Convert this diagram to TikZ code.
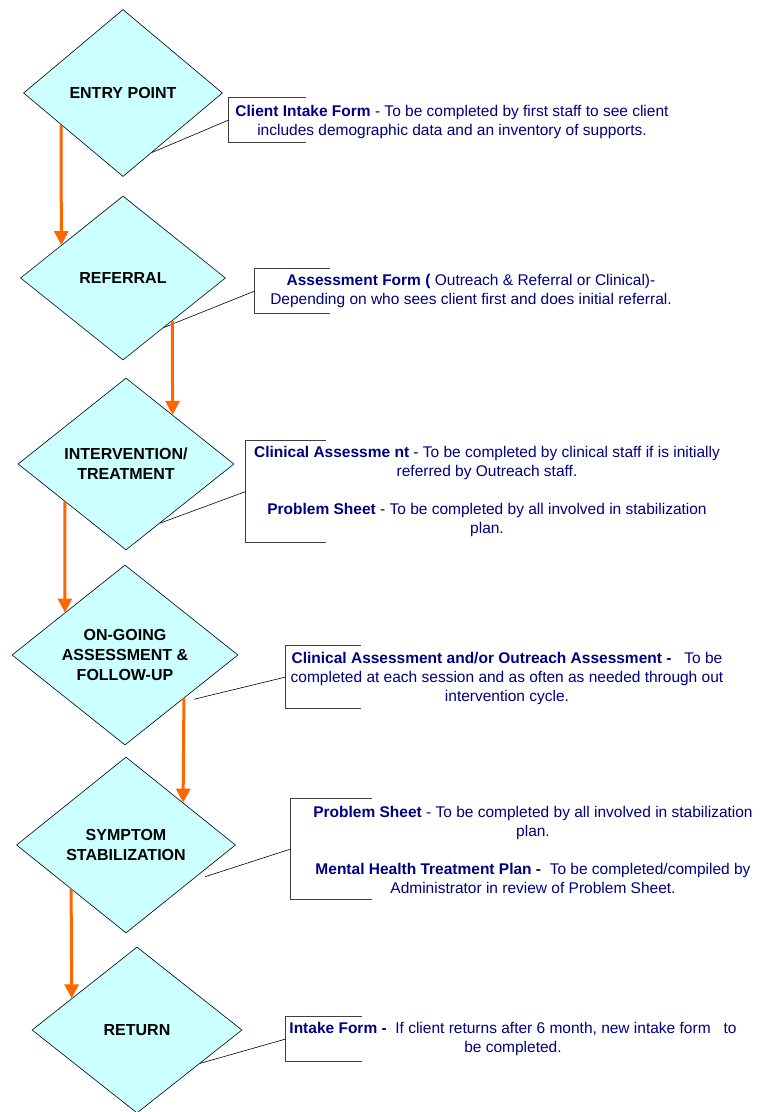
\documentclass[tikz,border=0pt]{standalone}
\usepackage{fontspec}
\setmainfont{Liberation Sans}
\usetikzlibrary{shapes.geometric,arrows.meta,calc}
\definecolor{stagefill}{HTML}{CCFFFF}
\definecolor{formblue}{HTML}{000080}
\definecolor{floworange}{HTML}{FF6600}
\begin{document}
\begin{tikzpicture}[x=1pt,y=-1pt,
    stage/.style={diamond,draw=black,line width=0.6pt,fill=stagefill,inner sep=0pt,
      align=center,font=\fontsize{16}{20}\selectfont\bfseries},
    form/.style={align=center,text=formblue,inner sep=0pt,font=\fontsize{15.5}{19}\selectfont},
    holder/.style 2 args={minimum width=#1,minimum height=#2,inner sep=0pt},
    bracket/.style={draw=black!75,line width=1pt},
    lead/.style={draw=black,line width=0.6pt},
    flow/.style={draw=floworange,line width=3pt,-{Triangle[width=14pt,length=14pt]}}]
    \useasboundingbox (0,0) rectangle (760,1112);
    %% stages
    \node[stage,minimum width=199pt,minimum height=167pt] (entry) at (123,93) {ENTRY POINT};
    \node[stage,minimum width=205pt,minimum height=164pt] (refer) at (123,278) {REFERRAL};
    \node[stage,minimum width=216pt,minimum height=172pt] (interv) at (126,464) {INTERVENTION/\\TREATMENT};
    \node[stage,minimum width=226pt,minimum height=180pt] (ongoing) at (125,655) {ON-GOING\\ASSESSMENT \&\\FOLLOW-UP};
    \node[stage,minimum width=219pt,minimum height=176pt] (sympt) at (126,845) {SYMPTOM\\STABILIZATION};
    \node[stage,minimum width=210pt,minimum height=166pt] (ret) at (137,1030) {RETURN};
    %% form brackets
    \node[holder={77pt}{44pt}] (b1) at (267.5,120) {};
    \node[holder={75pt}{44pt}] (b2) at (292.5,291) {};
    \node[holder={80pt}{101pt}] (b3) at (286,491.5) {};
    \node[holder={75pt}{62pt}] (b4) at (323.5,677) {};
    \node[holder={81pt}{100pt}] (b5) at (331.5,849) {};
    \node[holder={76pt}{44pt}] (b6) at (324,1039) {};
    \foreach \b in {b1,b2,b3,b4,b5,b6}
        \draw[bracket] (\b.north east) -- (\b.north west) -- (\b.south west) -- (\b.south east);
    %% leaders
    \draw[lead] (b1.west) -- ($(entry.south)!0.29!(entry.east)$);
    \draw[lead] (b2.west) -- ($(refer.south)!0.4!(refer.east)$);
    \draw[lead] (b3.west) -- ($(interv.south)!0.315!(interv.east)$);
    \draw[lead] (b4.west) -- ($(ongoing.south)!0.61!(ongoing.east)+(0,9)$);
    \draw[lead] (b5.west) -- ($(sympt.south)!0.72!(sympt.east)+(0,7)$);
    \draw[lead] (b6.west) -- ($(ret.south)!0.6!(ret.east)$);
    %% form texts
    \node[form] (t1) at (452,121.5) {\textbf{Client Intake Form}\ - To be completed by first staff to see client\\includes demographic data and an inventory of supports.};
    \node[form] (t2) at (471,290.5) {\textbf{Assessment Form (} Outreach \& Referral or Clinical)-\\Depending on who sees client first and does initial referral.};
    \node[form] (t3) at (487,491.5) {\textbf{Clinical Assessme nt} - To be completed by clinical staff if is initially\\referred by Outreach staff.\\[19pt]\textbf{Problem Sheet} - To be completed by all involved in stabilization\\plan.};
    \node[form] (t4) at (507,678) {\textbf{Clinical Assessment and/or Outreach Assessment -}\ \ \ To be\\completed at each session and as often as needed through out\\intervention cycle.};
    \node[form] (t5) at (533,850) {\textbf{Problem Sheet} - To be completed by all involved in stabilization\\plan.\\[19pt]\textbf{Mental Health Treatment Plan -}\ \ To be completed/compiled by\\Administrator in review of Problem Sheet.};
    \node[form] (t6) at (513,1038.5) {\textbf{Intake Form -}\ \ If client returns after 6 month, new intake form\ \ \ to\\be completed.};
    %% flow arrows
    \draw[flow] ($(entry.west)!0.38!(entry.south)$) -- ($(refer.west)!0.4!(refer.north)$);
    \draw[flow] ($(refer.south)!0.48!(refer.east)$) -- ($(interv.north)!0.43!(interv.east)$);
    \draw[flow] ($(interv.west)!0.435!(interv.south)$) -- ($(ongoing.west)!0.47!(ongoing.north)$);
    \draw[flow] ($(ongoing.south)!0.52!(ongoing.east)$) -- ($(sympt.north)!0.52!(sympt.east)$);
    \draw[flow] ($(sympt.west)!0.5!(sympt.south)$) -- ($(ret.west)!0.38!(ret.north)$);
\end{tikzpicture}
\end{document}
